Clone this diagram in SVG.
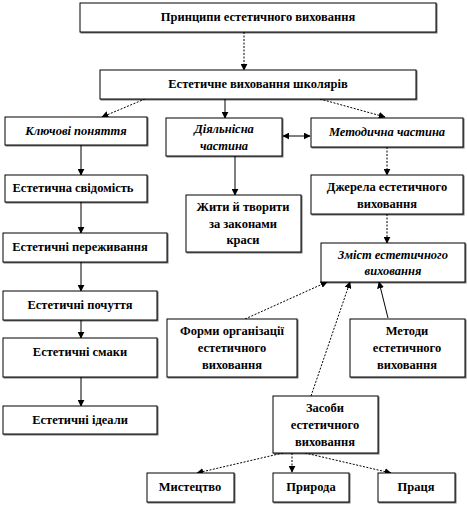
<svg xmlns="http://www.w3.org/2000/svg" width="467" height="505" viewBox="0 0 467 505" font-family="'Liberation Serif', serif">
<style>
.box{fill:#fff;stroke:#000;stroke-width:1;filter:url(#s)}
.t{font-family:'Liberation Serif', serif;font-weight:bold;font-size:12.5px;fill:#000;text-anchor:middle}
.i{font-style:italic}
.c{fill:none;stroke:#000;stroke-width:1}
.d{stroke-dasharray:2,1.5}
</style>
<defs>
<marker id="a" viewBox="0 0 10 10" refX="9" refY="5" markerWidth="7" markerHeight="7" orient="auto-start-reverse" markerUnits="userSpaceOnUse">
<path d="M0,0 L10,5 L0,10 z" fill="#000"/>
</marker>
<filter id="s" x="-5%" y="-10%" width="115%" height="130%">
<feDropShadow dx="1" dy="1" stdDeviation="0" flood-color="#000" flood-opacity="0.55"/>
</filter>
</defs>
<rect width="467" height="505" fill="#fff"/>

<g id="connectors">
<line class="c d" x1="244" y1="32" x2="244" y2="70" marker-end="url(#a)"/>
<line class="c d" x1="145" y1="99" x2="102" y2="117" marker-end="url(#a)"/>
<line class="c" x1="225" y1="99" x2="225" y2="118" marker-end="url(#a)"/>
<line class="c d" x1="320" y1="99" x2="385" y2="117" marker-end="url(#a)"/>
<line class="c" x1="81" y1="145" x2="81" y2="175" marker-end="url(#a)"/>
<line class="c" x1="81" y1="202" x2="81" y2="233" marker-end="url(#a)"/>
<line class="c" x1="81" y1="262" x2="81" y2="291" marker-end="url(#a)"/>
<line class="c" x1="81" y1="320" x2="81" y2="338" marker-end="url(#a)"/>
<line class="c" x1="81" y1="377" x2="81" y2="406" marker-end="url(#a)"/>
<line class="c" x1="283" y1="136" x2="310" y2="136" marker-start="url(#a)" marker-end="url(#a)"/>
<line class="c" x1="235" y1="156" x2="235" y2="195" marker-end="url(#a)"/>
<line class="c d" x1="387" y1="147" x2="387" y2="175" marker-end="url(#a)"/>
<line class="c d" x1="387" y1="214" x2="387" y2="243" marker-end="url(#a)"/>
<line class="c d" x1="245" y1="319" x2="327" y2="282" marker-end="url(#a)"/>
<line class="c" x1="388" y1="318" x2="379" y2="282" marker-end="url(#a)"/>
<line class="c d" x1="311" y1="396" x2="350" y2="282" marker-end="url(#a)"/>
<line class="c d" x1="283" y1="453" x2="197" y2="473" marker-end="url(#a)"/>
<line class="c d" x1="292" y1="453" x2="292" y2="472" marker-end="url(#a)"/>
<line class="c d" x1="305" y1="453" x2="391" y2="473" marker-end="url(#a)"/>
</g>

<g id="n-pryntsypy">
<rect class="box" x="80" y="3" width="356" height="29"/>
<text class="t" x="258" y="21">Принципи естетичного виховання</text>
</g>
<g id="n-vykhovannia">
<rect class="box" x="100" y="70" width="316" height="29"/>
<text class="t" x="258" y="88">Естетичне  виховання  школярів</text>
</g>
<g id="n-kliuchovi">
<rect class="box" x="5" y="117" width="142" height="28"/>
<text class="t i" x="76" y="135">Ключові поняття</text>
</g>
<g id="n-diialnisna">
<rect class="box" x="166" y="118" width="116" height="38"/>
<text class="t i" x="224" y="133">Діяльнісна</text>
<text class="t i" x="224" y="150">частина</text>
</g>
<g id="n-metodychna">
<rect class="box" x="311" y="118" width="152" height="29"/>
<text class="t i" x="387" y="136">Методична частина</text>
</g>
<g id="n-svidomist">
<rect class="box" x="5" y="175" width="142" height="27"/>
<text class="t" x="73" y="192">Естетична  свідомість</text>
</g>
<g id="n-perezhyvannia">
<rect class="box" x="3" y="233" width="164" height="29"/>
<text class="t" x="80" y="251">Естетичні  переживання</text>
</g>
<g id="n-pochuttia">
<rect class="box" x="3" y="291" width="154" height="29"/>
<text class="t" x="80" y="309">Естетичні  почуття</text>
</g>
<g id="n-smaky">
<rect class="box" x="3" y="338" width="154" height="39"/>
<text class="t" x="80" y="356">Естетичні  смаки</text>
</g>
<g id="n-idealy">
<rect class="box" x="3" y="406" width="154" height="28"/>
<text class="t" x="80" y="424">Естетичні  ідеали</text>
</g>
<g id="n-zhyty">
<rect class="box" x="186" y="195" width="115" height="57"/>
<text class="t" x="243" y="211">Жити й творити</text>
<text class="t" x="243" y="228">за законами</text>
<text class="t" x="243" y="244">краси</text>
</g>
<g id="n-dzherela">
<rect class="box" x="311" y="175" width="152" height="39"/>
<text class="t" x="387" y="191">Джерела естетичного</text>
<text class="t" x="387" y="208">виховання</text>
</g>
<g id="n-zmist">
<rect class="box" x="321" y="243" width="144" height="39"/>
<text class="t i" x="393" y="259">Зміст естетичного</text>
<text class="t i" x="393" y="275">виховання</text>
</g>
<g id="n-formy">
<rect class="box" x="167" y="319" width="130" height="58"/>
<text class="t" x="232" y="335">Форми організації</text>
<text class="t" x="232" y="352">естетичного</text>
<text class="t" x="232" y="369">виховання</text>
</g>
<g id="n-metody">
<rect class="box" x="350" y="319" width="115" height="58"/>
<text class="t" x="407" y="335">Методи</text>
<text class="t" x="407" y="352">естетичного</text>
<text class="t" x="407" y="369">виховання</text>
</g>
<g id="n-zasoby">
<rect class="box" x="273" y="396" width="105" height="57"/>
<text class="t" x="325" y="412">Засоби</text>
<text class="t" x="325" y="429">естетичного</text>
<text class="t" x="325" y="446">виховання</text>
</g>
<g id="n-mystetstvo">
<rect class="box" x="147" y="473" width="87" height="29"/>
<text class="t" x="190" y="491">Мистецтво</text>
</g>
<g id="n-pryroda">
<rect class="box" x="273" y="473" width="76" height="29"/>
<text class="t" x="311" y="491">Природа</text>
</g>
<g id="n-pratsia">
<rect class="box" x="378" y="473" width="77" height="29"/>
<text class="t" x="416" y="491">Праця</text>
</g>
</svg>
